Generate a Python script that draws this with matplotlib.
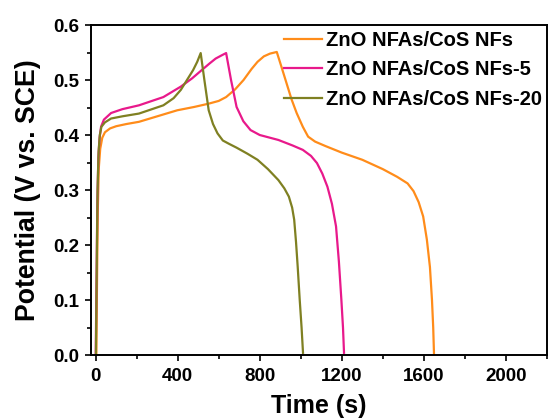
import matplotlib
matplotlib.use("Agg")
import matplotlib.pyplot as plt
from matplotlib.ticker import MultipleLocator

labels = ["ZnO NFAs/CoS NFs", "ZnO NFAs/CoS NFs-5", "ZnO NFAs/CoS NFs-20"]
colors = ["#FF8C1A", "#E8198B", "#7F8022"]

t_orange = [3, 6, 10, 15, 22, 32, 45, 70, 100, 150, 211, 300, 398, 480, 551, 600, 636, 680, 721, 760, 789, 820, 850, 883,
            905, 930, 955, 980, 1010, 1036, 1070, 1120, 1200, 1300, 1400, 1470, 1521, 1550, 1575, 1597, 1615, 1630, 1640, 1646, 1650]
v_orange = [0.0, 0.12, 0.26, 0.34, 0.375, 0.395, 0.405, 0.412, 0.416, 0.420, 0.424, 0.434, 0.445, 0.451, 0.457, 0.462, 0.469, 0.483, 0.500, 0.520, 0.533, 0.543, 0.548, 0.551,
            0.525, 0.495, 0.465, 0.440, 0.415, 0.397, 0.388, 0.380, 0.368, 0.355, 0.338, 0.324, 0.312, 0.298, 0.278, 0.252, 0.210, 0.160, 0.100, 0.050, 0.0]

t_magenta = [0, 4, 8, 13, 19, 26, 40, 75, 130, 211, 330, 415, 470, 517, 555, 585, 615, 636,
             660, 687, 720, 755, 800, 891, 960, 1010, 1050, 1079, 1105, 1130, 1152, 1172, 1186, 1198, 1206, 1211]
v_magenta = [0.0, 0.14, 0.28, 0.36, 0.395, 0.415, 0.428, 0.440, 0.447, 0.454, 0.469, 0.488, 0.503, 0.518, 0.530, 0.539, 0.545, 0.549,
             0.500, 0.451, 0.425, 0.409, 0.400, 0.391, 0.381, 0.373, 0.362, 0.349, 0.330, 0.306, 0.275, 0.234, 0.170, 0.101, 0.050, 0.004]

t_olive = [1, 5, 9, 14, 20, 28, 45, 75, 130, 211, 330, 380, 415, 445, 475, 495, 512,
           530, 551, 572, 594, 620, 650, 687, 740, 789, 840, 891, 920, 942, 958, 968, 977, 985, 995, 1004, 1011]
v_olive = [0.0, 0.16, 0.30, 0.37, 0.40, 0.415, 0.423, 0.430, 0.434, 0.439, 0.454, 0.467, 0.482, 0.500, 0.518, 0.533, 0.549,
           0.500, 0.445, 0.420, 0.403, 0.390, 0.384, 0.377, 0.366, 0.355, 0.338, 0.318, 0.303, 0.288, 0.268, 0.246, 0.205, 0.161, 0.100, 0.050, 0.004]

xticks = [0, 400, 800, 1200, 1600, 2000]
yticks = [0.0, 0.1, 0.2, 0.3, 0.4, 0.5, 0.6]

plt.rcParams['font.family'] = ['Liberation Sans', 'DejaVu Sans']
plt.rcParams['font.weight'] = 'bold'

fig = plt.figure(figsize=(5.49, 4.19), dpi=100)
ax = fig.add_axes([0.165, 0.1527, 0.831, 0.7876])

for t, v, lab, c in zip([t_orange, t_magenta, t_olive], [v_orange, v_magenta, v_olive], labels, colors):
    ax.plot(t, v, color=c, lw=1.6, label=lab)

ax.set_xlim(-25, 2200)
ax.set_ylim(0, 0.6)
ax.set_xticks(xticks)
ax.set_yticks(yticks)
ax.set_xticklabels([str(x) for x in xticks], fontsize=13.5, fontweight='bold')
ax.set_yticklabels([f"{y:.1f}" for y in yticks], fontsize=13.5, fontweight='bold')
ax.xaxis.set_minor_locator(MultipleLocator(200))
ax.yaxis.set_minor_locator(MultipleLocator(0.05))
ax.tick_params(which='major', direction='out', length=4.5, width=1.2, top=False, right=False)
ax.tick_params(which='minor', direction='out', length=3, width=1.2, top=False, right=False)
ax.tick_params(axis='x', which='major', pad=4.5)
ax.tick_params(axis='y', which='major', pad=3.5)
for s in ax.spines.values():
    s.set_linewidth(1.4)

ax.set_xlabel("Time (s)", fontsize=18, fontweight='bold', labelpad=7)
ax.set_ylabel("Potential (V vs. SCE)", fontsize=19.2, fontweight='bold', labelpad=9)

leg = ax.legend(loc='upper right', frameon=False, fontsize=14.5, handlelength=1.9, handletextpad=0.2,
                labelspacing=0.5, borderaxespad=0.0, bbox_to_anchor=(1.007, 1.005))
for txt in leg.get_texts():
    txt.set_fontweight('bold')

fig.savefig("out.png", dpi=100)
